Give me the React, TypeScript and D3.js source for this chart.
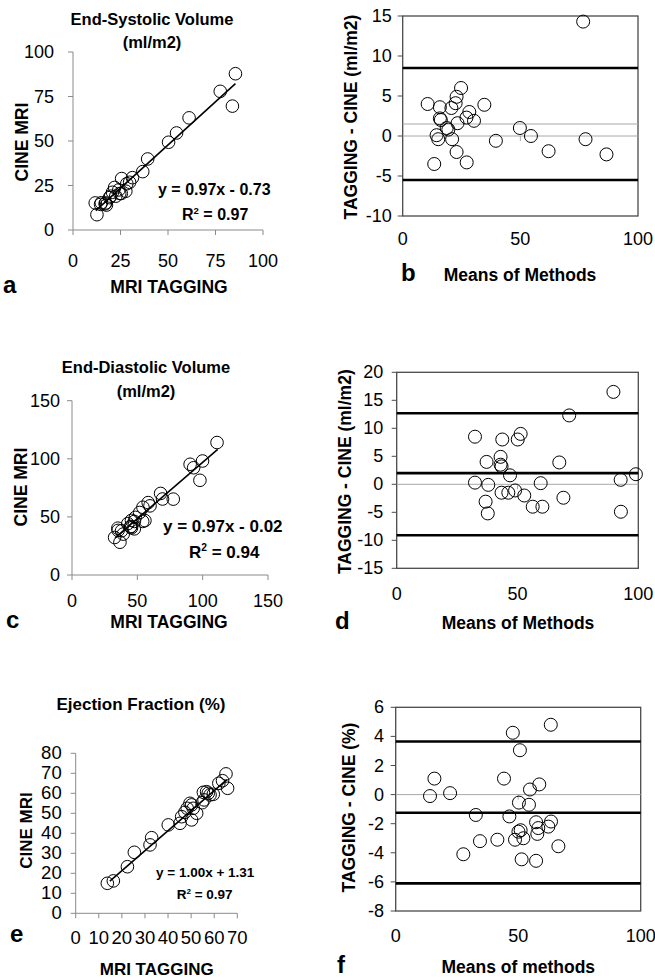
import React from "react";
import * as d3 from "d3";

const FONT = "'Liberation Sans', Arial, Helvetica, sans-serif";

// --- End-systolic volume (ml/m2) ---
const esvTagging = [12.6, 11.7, 14.5, 14.9, 17.6, 16.9, 17.2, 19.2, 19.8, 22.5, 20.8, 21.9, 24.1, 24.6, 25.4, 27.8, 25.6, 28.3, 29.8, 31.3, 36.7, 39.3, 50.3, 54.5, 61.1, 83.9, 77.5, 85.5];
const esvCine = [8.6, 15.2, 14.4, 15.3, 14.0, 14.7, 15.2, 18.2, 19.0, 19.0, 21.2, 23.9, 22.5, 20.5, 20.5, 21.8, 28.9, 26.0, 26.8, 29.4, 32.8, 39.9, 49.3, 54.5, 63.0, 69.6, 77.9, 87.8];
const esvTicks = [0, 25, 50, 75, 100];
const esvFit = [0.97, -0.73];
const esvFitRange = [12, 85.5];

const esvMeans = [10.6, 15.8, 15.8, 16.2, 24.8, 22.9, 22.5, 20.7, 28.3, 27.1, 30.3, 34.7, 23.3, 18.7, 19.4, 14.4, 15.1, 21.0, 22.9, 27.2, 13.4, 39.6, 49.8, 54.5, 62.0, 76.7, 77.7, 86.6];
const esvDiffs = [4.0, 3.6, 2.2, 2.0, 6.0, 4.9, 4.1, 3.5, 3.0, 2.3, 1.9, 3.9, 1.6, 1.0, 0.8, 0.1, -0.4, -0.4, -2.0, -3.3, -3.5, -0.6, 1.0, 0.0, -1.9, 14.3, -0.4, -2.3];
const esvDiffTicks = [-10, -5, 0, 5, 10, 15];
const esvLimits = [8.5, -5.5];
const esvBias = 1.5;

// --- End-diastolic volume (ml/m2) ---
const edvTagging = [111.0, 97.9, 77.5, 36.7, 47.7, 55.8, 54.1, 45.5, 39.2, 44.8, 45.0, 47.7, 69.3, 99.9, 93.1, 32.6, 37.9, 59.7, 42.7, 45.5, 48.5, 51.8, 67.8, 35.3, 54.3, 58.3, 35.1, 90.4];
const edvCine = [114.0, 81.5, 65.3, 28.2, 39.7, 46.8, 46.1, 40.6, 35.2, 41.3, 41.8, 46.1, 65.4, 98.1, 92.3, 32.3, 38.0, 59.5, 44.2, 47.0, 49.6, 53.8, 70.2, 38.4, 58.3, 62.3, 40.3, 95.3];
const edvTicks = [0, 50, 100, 150];
const edvFit = [0.97, -0.02];
const edvFitRange = [33, 111.5];

const edvMeans = [89.7, 71.4, 32.4, 43.7, 51.3, 50.1, 43.0, 37.2, 43.0, 43.4, 46.9, 67.3, 99.0, 92.7, 32.4, 37.9, 59.6, 43.4, 46.2, 49.0, 52.8, 69.0, 36.8, 56.3, 60.3, 37.7, 92.8];
const edvDiffs = [16.5, 12.3, 8.5, 8.0, 9.0, 8.0, 4.9, 4.0, 3.5, 3.2, 1.6, 3.9, 1.8, 0.8, 0.3, -0.1, 0.2, -1.5, -1.5, -1.1, -2.0, -2.4, -3.1, -4.0, -4.0, -5.2, -4.9];
const edvDiffTicks = [-15, -10, -5, 0, 5, 10, 15, 20];
const edvLimits = [12.7, 2.0, -9.1];

// --- Ejection fraction (%) ---
const efTagging = [13.7, 16.3, 22.4, 25.4, 32.2, 32.9, 40.1, 45.2, 45.9, 47.3, 48.3, 49.5, 50.2, 50.9, 50.2, 52.4, 54.8, 55.3, 56.7, 57.4, 58.2, 59.6, 55.6, 62.0, 63.6, 65.1, 65.8];
const efCine = [15.0, 16.2, 23.3, 30.5, 34.2, 37.8, 44.2, 45.0, 48.3, 50.5, 52.5, 55.0, 54.2, 52.5, 46.7, 50.0, 55.3, 60.5, 60.8, 60.0, 59.2, 59.5, 56.7, 65.0, 66.3, 69.7, 62.5];
const efTicksX = [0, 10, 20, 30, 40, 50, 60, 70];
const efTicksY = [0, 10, 20, 30, 40, 50, 60, 70, 80];
const efFit = [1.0, 1.31];
const efFitRange = [14.8, 65.5];

const efMeans = [14.0, 15.8, 22.2, 27.6, 32.7, 34.4, 41.5, 44.2, 46.4, 47.8, 50.7, 50.3, 48.7, 50.1, 51.0, 52.1, 51.4, 54.4, 54.8, 58.6, 57.3, 58.2, 57.8, 57.3, 62.3, 63.4, 63.3, 66.4];
const efDiffs = [-0.1, 1.1, 0.1, -4.1, -1.4, -3.2, -3.1, 1.1, -1.5, 4.25, 3.05, -0.55, -3.1, -2.55, -2.45, -3.0, -4.45, -0.7, 0.35, 0.7, -1.9, -2.3, -2.7, -4.55, -2.2, -1.85, 4.8, -3.55];
const efDiffTicks = [-8, -6, -4, -2, 0, 2, 4, 6];
const efLimits = [3.65, -1.25, -6.1];

const meanTicks = [0, 50, 100];

const AXIS = "#8a8a8a";

const Scatter = (p: any) => {
  const x = d3.scaleLinear().domain([p.ticksX[0], p.ticksX[p.ticksX.length - 1]]).range([p.left, p.right]);
  const y = d3.scaleLinear().domain([p.ticksY[0], p.ticksY[p.ticksY.length - 1]]).range([p.bottom, p.top]);
  const fitLine = d3.line<number>().x((v) => x(v)).y((v) => y(p.fit[0] * v + p.fit[1]));
  return (
    <g fontFamily={FONT}>
      {p.title.map((t: string, i: number) => (
        <text key={t} x={p.titleX} y={p.titleY[i]} textAnchor="middle" fontWeight="bold" fontSize={p.titleSize}>{t}</text>
      ))}
      <line x1={p.left} x2={p.left} y1={p.top} y2={p.bottom} stroke={AXIS} />
      <line x1={p.left} x2={p.right} y1={p.bottom} y2={p.bottom} stroke={AXIS} />
      {p.ticksY.map((t: number) => (
        <g key={"y" + t}>
          <line x1={p.left - 5} x2={p.left} y1={y(t)} y2={y(t)} stroke={AXIS} />
          <text x={p.yLabelRight} y={y(t) + 6} textAnchor="end" fontSize={p.tickSize}>{t}</text>
        </g>
      ))}
      {p.ticksX.map((t: number) => (
        <g key={"x" + t}>
          <line x1={x(t)} x2={x(t)} y1={p.bottom} y2={p.bottom + 5} stroke={AXIS} />
          <text x={x(t)} y={p.xTickY} textAnchor="middle" fontSize={p.tickSize}>{t}</text>
        </g>
      ))}
      <path d={fitLine(p.fitRange) || ""} stroke="#000" strokeWidth={1.6} fill="none" />
      {p.xs.map((v: number, i: number) => (
        <circle key={i} cx={x(v)} cy={y(p.ys[i])} r={6.3} fill="none" stroke="#000" strokeWidth={1} />
      ))}
      <text x={p.eqX} y={p.eqY} fontWeight="bold" fontSize={p.eqSize}>{p.eq}</text>
      <text x={p.r2X} y={p.r2Y} fontWeight="bold" fontSize={p.eqSize}>
        R<tspan dy={-p.eqSize * 0.4} fontSize={p.eqSize * 0.6}>2</tspan>
        <tspan dy={p.eqSize * 0.4}>{" = " + p.r2}</tspan>
      </text>
      <text transform={`translate(${p.yAxisX},${p.yAxisY}) rotate(-90)`} textAnchor="middle" fontWeight="bold" fontSize={p.labelSize}>CINE MRI</text>
      <text x={p.xAxisX} y={p.xAxisY} textAnchor="middle" fontWeight="bold" fontSize={p.labelSize}>MRI TAGGING</text>
      <text x={p.letterX} y={p.letterY} fontWeight="bold" fontSize={24}>{p.letter}</text>
    </g>
  );
};

const BlandAltman = (p: any) => {
  const x = d3.scaleLinear().domain([0, 100]).range([p.left, p.right]);
  const y = d3.scaleLinear().domain([p.ticksY[0], p.ticksY[p.ticksY.length - 1]]).range([p.bottom, p.top]);
  return (
    <g fontFamily={FONT}>
      <rect x={p.left} y={p.top} width={p.right - p.left} height={p.bottom - p.top} fill="none" stroke="#4a4a4a" strokeWidth={1.3} />
      <line x1={p.left} x2={p.right} y1={y(0)} y2={y(0)} stroke="#a8a8a8" />
      <line x1={x(50)} x2={x(50)} y1={y(0)} y2={y(0) + 5} stroke="#a8a8a8" />
      {p.bias !== undefined && (
        <line x1={p.left} x2={p.right} y1={y(p.bias)} y2={y(p.bias)} stroke="#a8a8a8" />
      )}
      {p.limits.map((v: number) => (
        <line key={v} x1={p.left} x2={p.right} y1={y(v)} y2={y(v)} stroke="#000" strokeWidth={2.6} />
      ))}
      {p.ticksY.map((t: number) => (
        <g key={"y" + t}>
          <line x1={p.left - 5} x2={p.left} y1={y(t)} y2={y(t)} stroke="#4a4a4a" />
          <text x={p.yLabelRight} y={y(t) + 6} textAnchor="end" fontSize={p.tickSize}>{t}</text>
        </g>
      ))}
      {meanTicks.map((t) => (
        <text key={"x" + t} x={x(t)} y={p.xTickY} textAnchor="middle" fontSize={p.tickSize}>{t}</text>
      ))}
      {p.means.map((v: number, i: number) => (
        <circle key={i} cx={x(v)} cy={y(p.diffs[i])} r={6.5} fill="none" stroke="#000" strokeWidth={1} />
      ))}
      <text transform={`translate(${p.yAxisX},${p.yAxisY}) rotate(-90)`} textAnchor="middle" fontWeight="bold" fontSize={p.labelSize}>{p.yLabel}</text>
      <text x={p.xAxisX} y={p.xAxisY} textAnchor="middle" fontWeight="bold" fontSize={p.labelSize}>{p.xLabel}</text>
      <text x={p.letterX} y={p.letterY} fontWeight="bold" fontSize={24}>{p.letter}</text>
    </g>
  );
};

export default function App() {
  return (
    <svg width={655} height={978} style={{ position: "absolute", left: 0, top: 0, background: "#fff" }}>
      <rect width={655} height={978} fill="#fff" />
      <Scatter
        xs={esvTagging} ys={esvCine} ticksX={esvTicks} ticksY={esvTicks}
        left={73} right={263} top={52} bottom={230}
        fit={esvFit} fitRange={esvFitRange}
        title={["End-Systolic Volume", "(ml/m2)"]} titleX={152} titleY={[25, 48]} titleSize={16.5}
        tickSize={18} yLabelRight={54} xTickY={267}
        eq="y = 0.97x - 0.73" r2="0.97" eqX={158} eqY={195} r2X={182} r2Y={220} eqSize={16}
        yAxisX={28} yAxisY={142} xAxisX={169} xAxisY={293} labelSize={17.5}
        letter="a" letterX={3} letterY={293}
      />
      <BlandAltman
        means={esvMeans} diffs={esvDiffs} ticksY={esvDiffTicks} limits={esvLimits} bias={esvBias}
        left={402.7} right={638} top={16} bottom={216}
        tickSize={18} yLabelRight={391.7} xTickY={245}
        yLabel="TAGGING - CINE (ml/m2)" yAxisX={357} yAxisY={117} labelSize={17.5}
        xLabel="Means of Methods" xAxisX={520} xAxisY={281}
        letter="b" letterX={401} letterY={281}
      />
      <Scatter
        xs={edvTagging} ys={edvCine} ticksX={edvTicks} ticksY={edvTicks}
        left={72} right={268} top={400.7} bottom={575}
        fit={edvFit} fitRange={edvFitRange}
        title={["End-Diastolic Volume", "(ml/m2)"]} titleX={146} titleY={[372.7, 396.5]} titleSize={16.5}
        tickSize={18} yLabelRight={60} xTickY={607}
        eq="y = 0.97x - 0.02" r2="0.94" eqX={163} eqY={531.7} r2X={189} r2Y={558} eqSize={17}
        yAxisX={27} yAxisY={487} xAxisX={169} xAxisY={628} labelSize={17.5}
        letter="c" letterX={6} letterY={628}
      />
      <BlandAltman
        means={edvMeans} diffs={edvDiffs} ticksY={edvDiffTicks} limits={edvLimits}
        left={396.7} right={638.3} top={372.3} bottom={568.3}
        tickSize={18} yLabelRight={383.3} xTickY={600}
        yLabel="TAGGING - CINE (ml/m2)" yAxisX={351} yAxisY={471.7} labelSize={17.5}
        xLabel="Means of Methods" xAxisX={518} xAxisY={629}
        letter="d" letterX={335} letterY={629}
      />
      <Scatter
        xs={efTagging} ys={efCine} ticksX={efTicksX} ticksY={efTicksY}
        left={75.7} right={237.3} top={753.3} bottom={913.3}
        fit={efFit} fitRange={efFitRange}
        title={["Ejection Fraction (%)"]} titleX={141} titleY={[710]} titleSize={17}
        tickSize={18.5} yLabelRight={61.7} xTickY={944}
        eq="y = 1.00x + 1.31" r2="0.97" eqX={156} eqY={877} r2X={176.7} r2Y={899} eqSize={13.5}
        yAxisX={32} yAxisY={830.5} xAxisX={156.7} xAxisY={975} labelSize={17}
        letter="e" letterX={10} letterY={942}
      />
      <BlandAltman
        means={efMeans} diffs={efDiffs} ticksY={efDiffTicks} limits={efLimits}
        left={395.7} right={640.7} top={707.3} bottom={911}
        tickSize={18} yLabelRight={384} xTickY={942}
        yLabel="TAGGING - CINE (%)" yAxisX={355} yAxisY={807.5} labelSize={17.5}
        xLabel="Means of methods" xAxisX={518.3} xAxisY={973}
        letter="f" letterX={337} letterY={973}
      />
    </svg>
  );
}
